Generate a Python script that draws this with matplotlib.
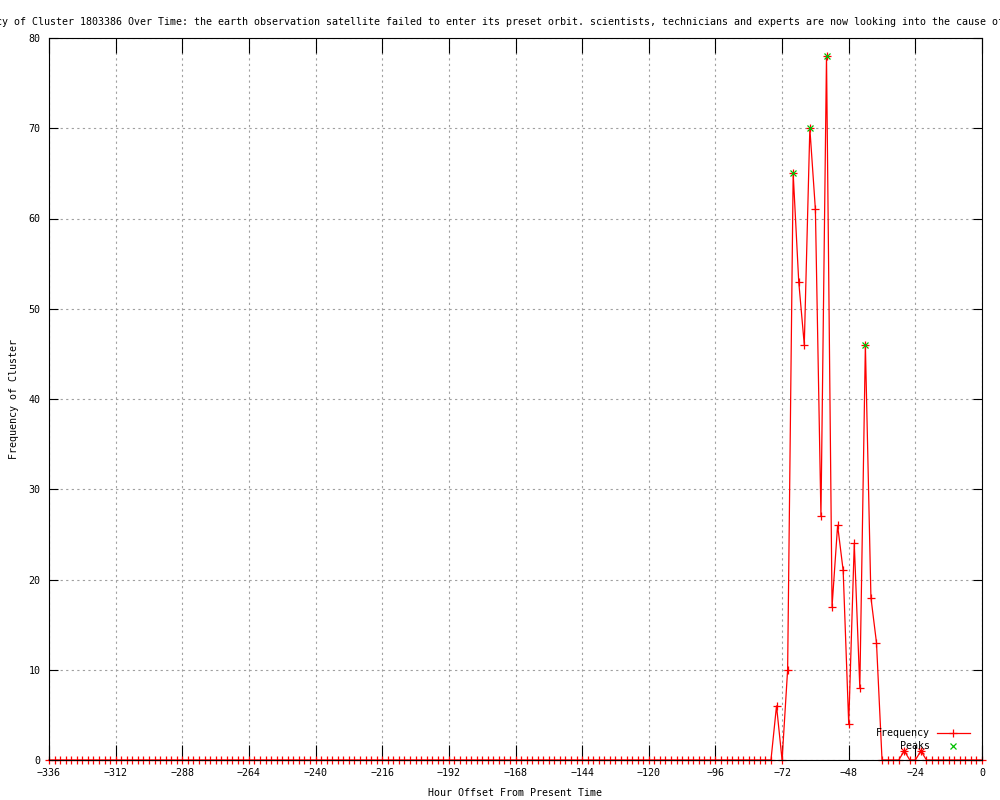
import matplotlib
matplotlib.use('Agg')
import matplotlib.pyplot as plt

# hours before now, sampled every 2 hours; only non-zero counts listed
hours = list(range(-336, 1, 2))
nonzero = {
    -74: 6, -70: 10, -68: 65, -66: 53, -64: 46, -62: 70, -60: 61,
    -58: 27, -56: 78, -54: 17, -52: 26, -50: 21, -48: 4, -46: 24,
    -44: 8, -42: 46, -40: 18, -38: 13, -28: 1, -22: 1,
}
counts = [nonzero.get(h, 0) for h in hours]

peak_hours = [-68, -62, -56, -42, -28, -22]
peak_values = [65, 70, 78, 46, 1, 1]
peak_colors = ['#00c000', '#00c000', '#00c000', '#00c000', 'red', 'red']

x_ticks = list(range(-336, 1, 24))
y_ticks = list(range(0, 81, 10))

title = ("Frequency of Cluster 1803386 Over Time: the earth observation satellite "
         "failed to enter its preset orbit. scientists, technicians and experts "
         "are now looking into the cause of the failure")

plt.rcParams['font.family'] = ['DejaVu Sans Mono']
plt.rcParams['font.size'] = 7.2

fig = plt.figure(figsize=(10, 8), dpi=100)
ax = fig.add_axes([0.049, 0.05, 0.933, 0.9025])

ax.plot(hours, counts, color='red', lw=0.9, marker='+', ms=6, mew=0.9,
        clip_on=False, zorder=2)
for h, v, c in zip(peak_hours, peak_values, peak_colors):
    ax.plot([h], [v], ls='none', marker='x', ms=5, mew=0.9, color=c,
            clip_on=False, zorder=3)

ax.set_xlim(-336, 0)
ax.set_ylim(0, 80)
ax.set_xticks(x_ticks)
ax.set_yticks(y_ticks)
ax.set_xticklabels([str(t).replace('-', '\u2212') for t in x_ticks])
ax.grid(True, color='#a0a0a0', linestyle=(0, (2, 3)), lw=0.8)
ax.set_axisbelow(True)
for s in ax.spines.values():
    s.set_linewidth(0.8)
    s.set_zorder(2.5)
ax.tick_params(axis='x', direction='in', length=11, width=0.8, top=True,
               pad=6, labelsize=7.2)
ax.tick_params(axis='y', direction='in', length=6.5, width=0.8, right=True,
               pad=6, labelsize=7.2)

ax.set_xlabel('Hour Offset From Present Time', labelpad=7)
ax.set_ylabel('Frequency of Cluster', labelpad=7)

fig.text(0.515, 0.9725, title, ha='center', va='center', fontsize=7.2)

# key, bottom right: text left of sample as in gnuplot
def px(xp, yp):
    return ((xp - 49) / 933, (760 - yp) / 722)

tx, ty = px(930, 733)
ax.text(tx, ty, 'Frequency', transform=ax.transAxes, ha='right', va='center')
a, b = px(937, 733)
c, _ = px(970, 733)
ax.plot([a, c], [b, b], color='red', lw=0.9, transform=ax.transAxes,
        clip_on=False)
m, _ = px(953, 733)
ax.plot([m], [b], marker='+', ms=6, mew=0.9, color='red',
        transform=ax.transAxes, clip_on=False)
tx, ty = px(930, 746)
ax.text(tx, ty, 'Peaks', transform=ax.transAxes, ha='right', va='center')
m, y2 = px(953, 746)
ax.plot([m], [y2], marker='x', ms=5, mew=0.9, color='#00c000',
        transform=ax.transAxes, clip_on=False)

fig.savefig('out.png', dpi=100)
